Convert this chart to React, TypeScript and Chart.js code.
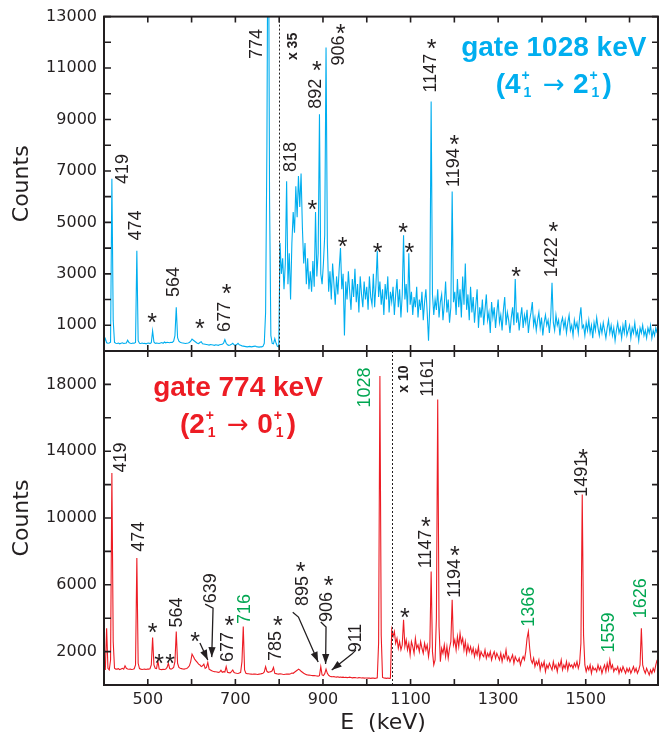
import React, { useEffect, useRef } from 'react';
import { Chart, registerables } from 'chart.js';

Chart.register(...registerables);

const INK = '#231f20';
const CYAN = '#00aeef';
const RED = '#ed1c24';
const GREEN = '#00a651';
const TICK_FONT = '"DejaVu Sans", sans-serif';
const LABEL_FONT = '"Liberation Sans", Arial, sans-serif';

// ---- axes ----
const ENERGY_MIN = 400;
const ENERGY_MAX = 1665;
const CHANNEL_START_KEV = 400;
const CHANNEL_WIDTH_KEV = 3;
const energyTicks = [400, 500, 600, 700, 800, 900, 1000, 1100, 1200, 1300, 1400, 1500, 1600];
const energyTickLabels = [500, 700, 900, 1100, 1300, 1500];
const topCountTicks = [0, 1000, 2000, 3000, 4000, 5000, 6000, 7000, 8000, 9000, 10000, 11000, 12000, 13000];
const topCountLabels = [1000, 3000, 5000, 7000, 9000, 11000, 13000];
const bottomCountTicks = [0, 2000, 4000, 6000, 8000, 10000, 12000, 14000, 16000, 18000, 20000];
const bottomCountLabels = [2000, 6000, 10000, 14000, 18000];
const TOP_MAX = 13000;
const BOTTOM_MAX = 20000;
const TOP_BREAK_KEV = 800;
const BOTTOM_BREAK_KEV = 1057;

// ---- spectra: counts per 3 keV channel, starting at 400 keV ----
const topCounts = [
  350, 480, 320, 300, 310, 340, 6700, 1200, 330, 300,
  290, 310, 280, 300, 320, 290, 300, 310, 420, 330,
  300, 290, 310, 300, 330, 3900, 400, 300, 290, 310,
  290, 300, 280, 300, 310, 290, 320, 780, 350, 300,
  310, 300, 290, 310, 330, 300, 350, 320, 340, 330,
  320, 340, 330, 380, 600, 1700, 520, 380, 340, 320,
  310, 300, 290, 300, 310, 330, 380, 460, 420, 380,
  340, 300, 290, 330, 360, 280, 270, 260, 250, 240,
  230, 250, 240, 230, 220, 240, 230, 220, 240, 250,
  260, 300, 440, 300, 240, 220, 230, 260, 300, 240,
  220, 250, 300, 240, 220, 200, 190, 180, 170, 160,
  170, 180, 160, 170, 180, 190, 170, 160, 150, 160,
  160, 180, 300, 1500, 8000, 20000, 6000, 600, 300, 280,
  480, 300, 180, 160, 4200, 3000, 3600, 2400, 3400, 6600,
  2600, 3800, 2000, 4200, 5400, 4600, 6400, 5200, 6800, 5600,
  6900, 4800, 3400, 4200, 2600, 3600, 2400, 3100, 2300, 3500,
  2500, 5400, 2900, 3800, 9200, 3000, 2600, 3400, 4500, 11800,
  4200, 2300, 3100, 2000, 3400, 2600, 1800, 2900, 2200, 3200,
  4000, 2400, 3000, 600, 2700, 2000, 3100, 2300, 1600, 2800,
  2100, 3200, 1900, 2600, 1500, 2900, 2200, 1700, 2700, 2000,
  2500, 1600, 2900, 2100, 1800, 3000, 1700, 2600, 3900, 2100,
  2700, 1800, 2400, 1400, 2600, 2000, 2900, 1500, 2300, 1900,
  2500, 1400, 2200, 2800, 1700, 2400, 1300, 2200, 4500, 2000,
  2600, 1500, 3800, 1800, 2300, 1400, 2100, 1700, 2500, 1300,
  2000, 1600, 2300, 1200, 1900, 2400, 1500, 400, 1800, 9700,
  2200, 1400, 2000, 1600, 2400, 1300, 1900, 2200, 1200, 1800,
  2700, 1500, 2000, 1100, 1700, 6200, 1900, 2300, 1400, 2800,
  1700, 2400, 1300, 2900, 1800, 3400, 1600, 2200, 1200, 2500,
  1500, 2100, 1100, 1800, 2400, 900, 1700, 1300, 2000, 1000,
  1600, 2200, 1200, 1500, 700, 1900, 1300, 1700, 900, 1500,
  2000, 1100, 1400, 800, 1600, 2100, 1000, 1500, 1200, 700,
  1300, 1700, 1000, 2800, 1100, 1500, 800, 1300, 1700, 900,
  1400, 1100, 1600, 700, 1200, 1500, 1900, 1000, 1300, 800,
  1200, 1500, 900, 1300, 600, 1100, 1400, 1000, 1200, 700,
  1300, 2650, 1100, 800, 1400, 1000, 1200, 600, 1100, 1300,
  900, 1200, 700, 1100, 1400, 800, 1000, 600, 1200, 900,
  1100, 700, 1300, 1700, 900, 1000, 600, 1100, 800, 1200,
  700, 1000, 500, 1100, 800, 1300, 900, 600, 1000, 700,
  1100, 800, 500, 900, 1200, 700, 1000, 600, 900, 400,
  800, 1100, 700, 900, 500, 1000, 700, 1200, 600, 800,
  1000, 500, 900, 700, 1100, 600, 800, 400, 900, 700,
  1000, 600, 800, 500, 900, 700, 1000, 500, 800, 600,
  900, 700,
];

const bottomCounts = [
  1400, 900, 3400, 1000, 900, 1500, 12700, 2600, 1000, 950,
  950, 980, 920, 960, 1000, 950, 1150, 1000, 960, 940,
  950, 930, 940, 970, 1200, 7600, 1300, 980, 950, 930,
  940, 950, 930, 960, 950, 970, 1200, 2850, 1200, 1000,
  980, 1450, 950, 930, 920, 940, 930, 950, 1050, 1300,
  980, 950, 990, 1050, 1400, 3200, 1300, 1050, 1000, 980,
  960, 950, 970, 990, 1050, 1150, 1400, 1850, 1700, 1550,
  1450, 1350, 1250, 1200, 1100, 1150, 1250, 1000, 1050, 1350,
  950, 900, 850, 820, 800, 790, 780, 760, 780, 880,
  760, 800, 780, 1100, 760, 740, 720, 800, 900, 750,
  720, 700, 690, 720, 760, 1400, 3500, 900, 700, 680,
  670, 660, 650, 640, 660, 650, 640, 630, 650, 660,
  680, 700, 780, 1100, 820, 760, 780, 800, 850, 1050,
  700, 680, 660, 650, 670, 660, 640, 630, 640, 650,
  660, 650, 680, 720, 700, 760, 820, 880, 950, 900,
  820, 760, 700, 660, 620, 600, 590, 580, 570, 560,
  560, 550, 540, 530, 560, 1100, 600, 560, 680, 950,
  700, 580, 530, 500, 490, 500, 480, 470, 490, 460,
  480, 460, 470, 450, 460, 440, 450, 470, 450, 430,
  440, 450, 430, 420, 440, 430, 420, 430, 410, 420,
  420, 410, 420, 400, 410, 420, 400, 410, 430, 2500,
  18500, 3000, 450, 420, 410, 400, 420, 400, 410, 3300,
  2900, 3200, 2500, 2800, 2200, 2600, 2100, 2400, 3900, 2300,
  2700, 2100, 2500, 1800, 2600, 2300, 1900, 2800, 2200, 2400,
  2000, 2600, 2200, 1900, 2500, 2100, 2400, 1700, 2300, 6800,
  2000, 1200, 1500, 4000, 17100, 3500, 1400, 2200, 1900, 2400,
  1700, 2300, 1600, 2200, 2600, 5100, 2400, 2700, 2100, 2900,
  2300, 3100, 2500, 2800, 2100, 2600, 1900, 2400, 2000, 2300,
  1900, 2200, 1700, 2100, 1800, 2300, 1600, 2000, 1800, 1700,
  2100, 1600, 1900, 1700, 2000, 1500, 1800, 2000, 1600, 1900,
  1700, 1500, 1900, 1400, 1800, 1600, 2100, 1500, 1700, 1400,
  1600, 1800, 1300, 1700, 1500, 1400, 1600, 1200, 1500, 1700,
  1500, 2000, 2800, 3200, 2200, 1500, 1300, 1600, 1100, 1400,
  1200, 1500, 900, 1300, 1100, 1400, 800, 1200, 1000, 1300,
  1100, 900, 1400, 1000, 1200, 800, 1300, 1100, 1500, 900,
  1200, 1000, 1400, 900, 1300, 1100, 1200, 1000, 1300, 1100,
  1400, 1000, 1300, 2500, 11400, 3000, 1200, 800, 1100, 900,
  1200, 700, 1100, 900, 1000, 800, 1200, 900, 1100, 700,
  1000, 1200, 800, 1300, 900, 1500, 1000, 1200, 800, 1000,
  900, 1100, 700, 1000, 800, 1100, 900, 700, 1000, 800,
  1000, 700, 900, 1100, 800, 1000, 700, 900, 1200, 3400,
  1200, 900, 700, 1000, 800, 600, 900, 700, 1000, 800,
  1200, 1500,
];

// ---- annotations: [text, energy keV, counts, colour] ----
const topPeakLabels: [string, number, number, string][] = [
  ['419', 444, 7080, INK],
  ['474', 473, 4875, INK],
  ['564', 561, 2681, INK],
  ['677', 677, 1327, INK],
  ['774', 749, 11936, INK],
  ['818', 828, 7545, INK],
  ['892', 884, 10000, INK],
  ['906', 937, 11685, INK],
  ['1147', 1146, 10806, INK],
  ['1194', 1199, 7131, INK],
  ['1422', 1424, 3648, INK],
];
const topStars: [number, number][] = [
  [510, 1327], [619, 1072], [680, 2465], [876, 5715], [886, 11130], [940, 12550],
  [945, 4295], [1025, 4062], [1083, 4836], [1097, 4062], [1148, 11967], [1200, 8230],
  [1341, 3107], [1426, 4875],
];
const bottomPeakLabels: [string, number, number, string][] = [
  ['419', 438, 13623, INK],
  ['474', 479, 8880, INK],
  ['564', 566, 4341, INK],
  ['639', 645, 5790, INK],
  ['677', 683, 2275, INK],
  ['716', 721, 4551, GREEN],
  ['785', 793, 2335, INK],
  ['895', 854, 5629, INK],
  ['906', 909, 4670, INK],
  ['911', 976, 2814, INK],
  ['1028', 997, 17815, GREEN],
  ['1161', 1140, 18413, INK],
  ['1147', 1135, 8144, INK],
  ['1194', 1201, 6389, INK],
  ['1366', 1371, 4689, GREEN],
  ['1491', 1492, 12473, INK],
  ['1559', 1553, 3144, GREEN],
  ['1626', 1626, 5192, GREEN],
];
const bottomStars: [number, number][] = [
  [511, 3491], [526, 1597], [551, 1597], [608, 2934], [686, 3892], [797, 3892],
  [849, 7126], [913, 6287], [1087, 4389], [1135, 9838], [1201, 8084], [1494, 13874],
];
const bottomArrows: [number, number][][] = [
  [[619, 2510], [637, 1500]],
  [[631, 4840], [649, 4600], [646, 1670]],
  [[831, 4360], [844, 4070], [889, 1380]],
  [[895, 3770], [907, 3470], [906, 1260]],
  [[975, 2090], [966, 1850], [920, 900]],
];

type Gate = { title: string; from: string; to: string; e: number; v1: number; v2: number; color: string };
const topGate: Gate = { title: 'gate 1028 keV', from: '4', to: '2', e: 1427, v1: 11450, v2: 10020, color: CYAN };
const bottomGate: Gate = { title: 'gate 774 keV', from: '2', to: '0', e: 706, v1: 17300, v2: 15070, color: RED };

type Panel = {
  counts: number[];
  color: string;
  yMax: number;
  yTicks: number[];
  yLabels: number[];
  padTop: number;
  xAxisHeight: number;
  padBottom: number;
  showXLabels: boolean;
  breakKeV: number;
  breakText: string;
  breakTextPos: [number, number];
  labels: [string, number, number, string][];
  stars: [number, number][];
  arrows: [number, number][][];
  gate: Gate;
};

function drawScripts(ctx: CanvasRenderingContext2D, x: number, base: number) {
  ctx.font = `bold 14px ${LABEL_FONT}`;
  ctx.fillText('+', x + 1, base - 13);
  ctx.fillText('1', x + 3, base + 4);
}

function drawFormula(ctx: CanvasRenderingContext2D, cx: number, base: number, g: Gate) {
  const big = `bold 28px ${LABEL_FONT}`;
  const arrowFont = `26px "DejaVu Sans", sans-serif`;
  const parts: { t: string; f: string; script?: boolean }[] = [
    { t: '(' + g.from, f: big },
    { t: '', f: big, script: true },
    { t: ' \u2192 ', f: arrowFont },
    { t: g.to, f: big },
    { t: '', f: big, script: true },
    { t: ')', f: big },
  ];
  const widths = parts.map((p) => {
    if (p.script) return 14;
    ctx.font = p.f;
    return ctx.measureText(p.t).width;
  });
  const total = widths.reduce((s, w) => s + w, 0);
  let x = cx - total / 2;
  ctx.textAlign = 'left';
  ctx.textBaseline = 'alphabetic';
  ctx.fillStyle = g.color;
  parts.forEach((p, i) => {
    if (p.script) drawScripts(ctx, x, base);
    else {
      ctx.font = p.f;
      ctx.fillText(p.t, x, base);
    }
    x += widths[i];
  });
}

function drawRotated(ctx: CanvasRenderingContext2D, text: string, x: number, y: number, font: string, color: string, baseline: CanvasTextBaseline = 'middle') {
  ctx.save();
  ctx.translate(x, y);
  ctx.rotate(-Math.PI / 2);
  ctx.font = font;
  ctx.fillStyle = color;
  ctx.textAlign = 'center';
  ctx.textBaseline = baseline;
  ctx.fillText(text, 0, 0);
  ctx.restore();
}

function drawStar(ctx: CanvasRenderingContext2D, x: number, y: number) {
  ctx.font = `25px ${LABEL_FONT}`;
  ctx.fillStyle = INK;
  ctx.textAlign = 'center';
  ctx.textBaseline = 'alphabetic';
  ctx.fillText('*', x, y + 14);
}

function drawArrow(ctx: CanvasRenderingContext2D, pts: [number, number][]) {
  ctx.strokeStyle = INK;
  ctx.fillStyle = INK;
  ctx.lineWidth = 1.3;
  ctx.beginPath();
  ctx.moveTo(pts[0][0], pts[0][1]);
  for (let i = 1; i < pts.length; i++) ctx.lineTo(pts[i][0], pts[i][1]);
  ctx.stroke();
  const [x1, y1] = pts[pts.length - 2];
  const [x2, y2] = pts[pts.length - 1];
  const a = Math.atan2(y2 - y1, x2 - x1);
  const L = 10, W = 3.6;
  const c = Math.cos(a), s = Math.sin(a);
  ctx.beginPath();
  ctx.moveTo(x2, y2);
  ctx.lineTo(x2 - L * c + W * s, y2 - L * s - W * c);
  ctx.lineTo(x2 - L * c - W * s, y2 - L * s + W * c);
  ctx.closePath();
  ctx.fill();
}

function buildPanel(canvas: HTMLCanvasElement, p: Panel): Chart {
  const overlay = {
    id: 'overlay',
    afterDraw(chart: any) {
      const ctx: CanvasRenderingContext2D = chart.ctx;
      const a = chart.chartArea;
      const xs = chart.scales.x;
      const ys = chart.scales.y;
      const px = (e: number) => xs.getPixelForValue(e);
      const py = (v: number) => ys.getPixelForValue(v);
      ctx.save();
      // scale break line
      ctx.strokeStyle = INK;
      ctx.lineWidth = 1;
      ctx.setLineDash([2, 2]);
      const bx = Math.round(px(p.breakKeV)) + 0.5;
      ctx.beginPath();
      ctx.moveTo(bx, a.top);
      ctx.lineTo(bx, a.bottom);
      ctx.stroke();
      ctx.setLineDash([]);
      // frame
      ctx.lineWidth = 2;
      ctx.strokeRect(a.left, a.top, a.right - a.left, a.bottom - a.top);
      // inward ticks
      ctx.lineWidth = 1.6;
      ctx.beginPath();
      for (const e of energyTicks) {
        const x = px(e);
        ctx.moveTo(x, a.bottom); ctx.lineTo(x, a.bottom - 6);
        ctx.moveTo(x, a.top); ctx.lineTo(x, a.top + 6);
      }
      for (const v of p.yTicks) {
        const y = py(v);
        ctx.moveTo(a.left, y); ctx.lineTo(a.left + 7, y);
        ctx.moveTo(a.right, y); ctx.lineTo(a.right - 6, y);
      }
      ctx.stroke();
      // axis titles
      drawRotated(ctx, 'Counts', 28, (a.top + a.bottom) / 2, `22px ${TICK_FONT}`, INK, 'alphabetic');
      if (p.showXLabels) {
        ctx.font = `22px ${TICK_FONT}`;
        ctx.fillStyle = INK;
        ctx.textAlign = 'center';
        ctx.textBaseline = 'alphabetic';
        ctx.fillText('E  (keV)', (a.left + a.right) / 2 + 2, 729);
      }
      // scale factor text
      drawRotated(ctx, p.breakText, px(p.breakTextPos[0]), py(p.breakTextPos[1]), `bold 14px ${LABEL_FONT}`, INK);
      // peak labels
      for (const [t, e, v, col] of p.labels) {
        drawRotated(ctx, t, px(e), py(v), `18px ${LABEL_FONT}`, col);
      }
      for (const [e, v] of p.stars) drawStar(ctx, px(e), py(v));
      for (const arr of p.arrows) drawArrow(ctx, arr.map(([e, v]) => [px(e), py(v)] as [number, number]));
      // gate text
      ctx.font = `bold 28px ${LABEL_FONT}`;
      ctx.fillStyle = p.gate.color;
      ctx.textAlign = 'center';
      ctx.textBaseline = 'alphabetic';
      ctx.fillText(p.gate.title, px(p.gate.e), py(p.gate.v1));
      drawFormula(ctx, px(p.gate.e), py(p.gate.v2), p.gate);
      ctx.restore();
    },
  };

  const points = p.counts.map((c, i) => ({ x: CHANNEL_START_KEV + i * CHANNEL_WIDTH_KEV, y: c }));

  return new Chart(canvas, {
    type: 'line',
    data: {
      datasets: [
        {
          data: points,
          borderColor: p.color,
          borderWidth: 1.1,
          pointRadius: 0,
          fill: false,
          tension: 0,
        },
      ],
    },
    options: {
      animation: false,
      responsive: false,
      devicePixelRatio: 1,
      events: [],
      layout: { padding: { top: p.padTop, right: 1, bottom: p.padBottom, left: 0 } },
      plugins: { legend: { display: false }, tooltip: { enabled: false } },
      scales: {
        x: {
          type: 'linear',
          min: ENERGY_MIN,
          max: ENERGY_MAX,
          afterBuildTicks: (s: any) => {
            s.ticks = energyTicks.map((v) => ({ value: v }));
          },
          afterFit: (s: any) => {
            s.height = p.xAxisHeight;
          },
          ticks: {
            display: p.showXLabels,
            autoSkip: false,
            maxRotation: 0,
            padding: 5,
            color: INK,
            font: { family: TICK_FONT, size: 16 },
            callback: (v: any) => (energyTickLabels.includes(Number(v)) ? String(v) : ''),
          },
          grid: { display: false, drawTicks: false },
          border: { display: false },
        },
        y: {
          type: 'linear',
          min: 0,
          max: p.yMax,
          afterBuildTicks: (s: any) => {
            s.ticks = p.yTicks.map((v) => ({ value: v }));
          },
          afterFit: (s: any) => {
            s.width = 104;
          },
          ticks: {
            autoSkip: false,
            padding: 7,
            color: INK,
            font: { family: TICK_FONT, size: 16 },
            callback: (v: any) => (p.yLabels.includes(Number(v)) ? String(v) : ''),
          },
          grid: { display: false, drawTicks: false },
          border: { display: false },
        },
      },
    } as any,
    plugins: [overlay],
  });
}

export default function App() {
  const topRef = useRef<HTMLCanvasElement>(null);
  const bottomRef = useRef<HTMLCanvasElement>(null);

  useEffect(() => {
    const top = buildPanel(topRef.current!, {
      counts: topCounts,
      color: CYAN,
      yMax: TOP_MAX,
      yTicks: topCountTicks,
      yLabels: topCountLabels,
      padTop: 15,
      padBottom: 392,
      xAxisHeight: 0,
      showXLabels: false,
      breakKeV: TOP_BREAK_KEV,
      breakText: 'x 35',
      breakTextPos: [832, 11840],
      labels: topPeakLabels,
      stars: topStars,
      arrows: [],
      gate: topGate,
    });
    const bottom = buildPanel(bottomRef.current!, {
      counts: bottomCounts,
      color: RED,
      yMax: BOTTOM_MAX,
      yTicks: bottomCountTicks,
      yLabels: bottomCountLabels,
      padTop: 351,
      padBottom: 0,
      xAxisHeight: 58,
      showXLabels: true,
      breakKeV: BOTTOM_BREAK_KEV,
      breakText: 'x 10',
      breakTextPos: [1086, 18323],
      labels: bottomPeakLabels,
      stars: bottomStars,
      arrows: bottomArrows,
      gate: bottomGate,
    });
    return () => {
      top.destroy();
      bottom.destroy();
    };
  }, []);

  const cs: React.CSSProperties = { position: 'absolute', left: 0, top: 0, width: 659, height: 743 };
  return (
    <div style={{ position: 'absolute', left: 0, top: 0, width: 659, height: 743, background: '#fff' }}>
      <canvas ref={topRef} width={659} height={743} style={cs} />
      <canvas ref={bottomRef} width={659} height={743} style={cs} />
    </div>
  );
}
